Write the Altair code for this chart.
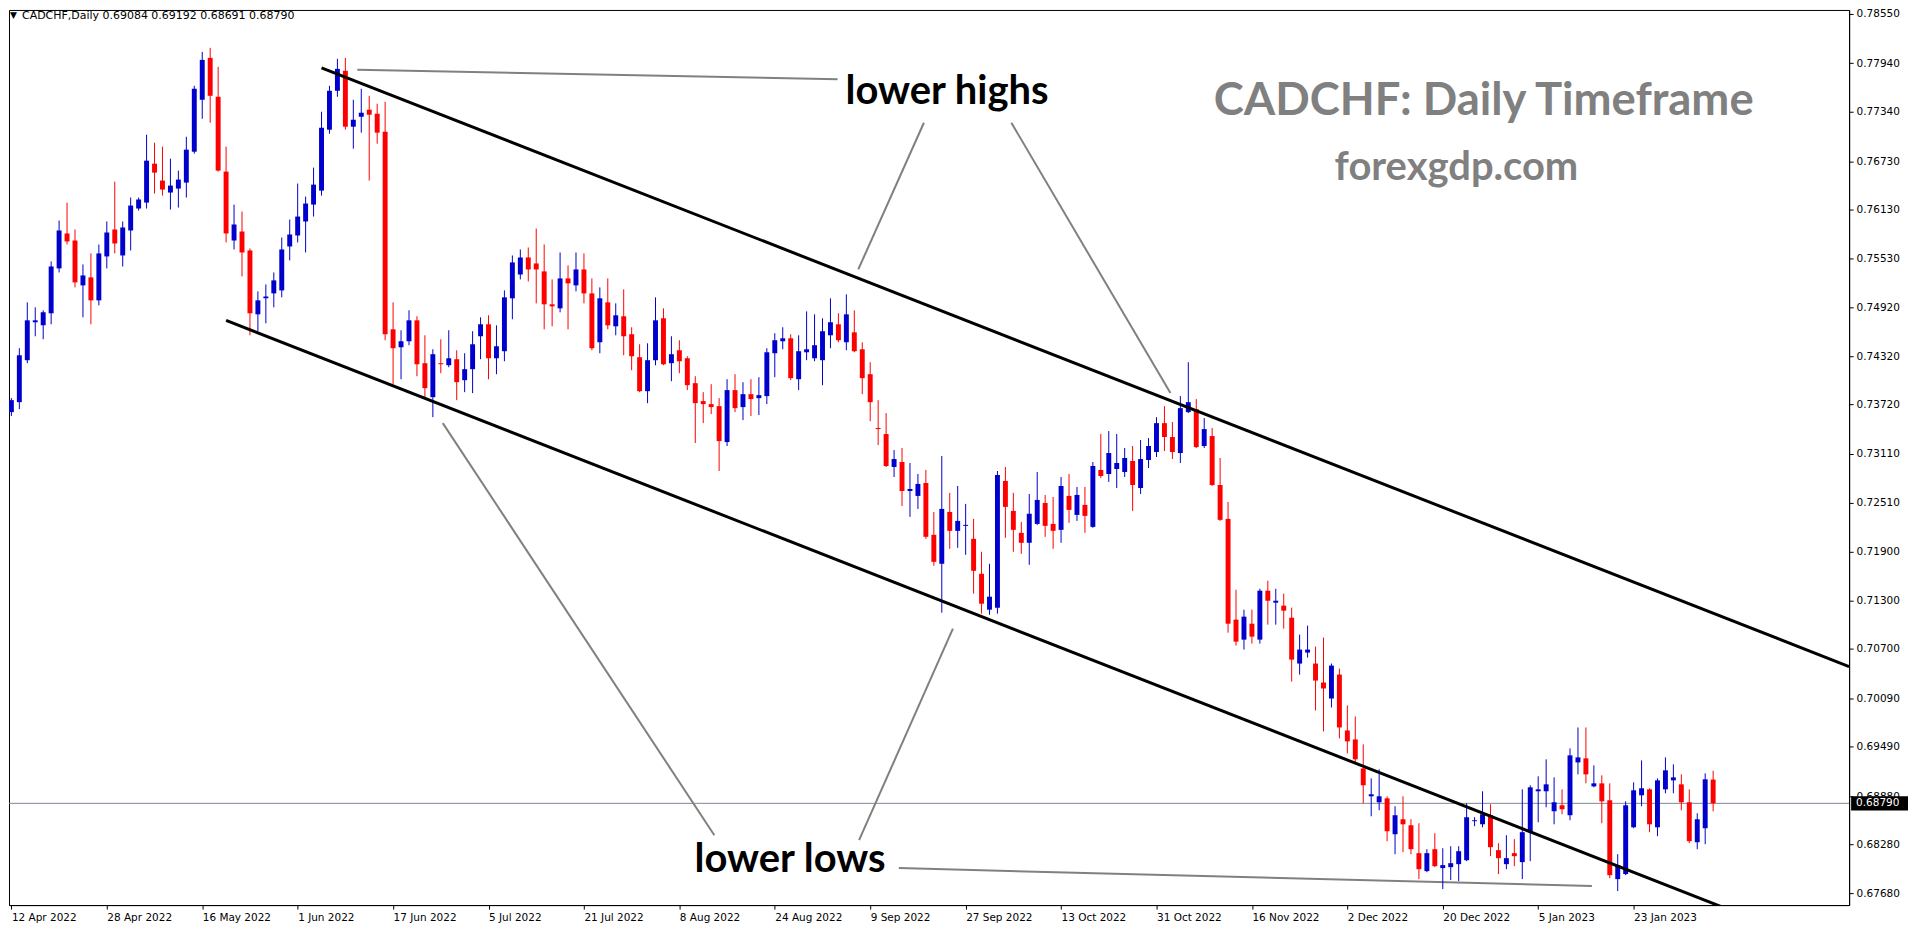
import json
import altair as alt
import pandas as pd

# ---------------- data ----------------
opens = [0.73627,0.73750,0.74269,0.74738,0.74700,0.74849,0.75404,0.75836,0.75749,0.75194,
0.75293,0.75009,0.75552,0.75885,0.75564,0.75873,0.76144,0.76218,0.76699,0.76490,
0.76342,0.76391,0.76465,0.76847,0.77489,0.78007,0.77526,0.76601,0.75749,0.75860,
0.75626,0.74836,0.75034,0.75095,0.75132,0.75675,0.75811,0.75984,0.76193,0.76366,
0.77119,0.77600,0.77847,0.77156,0.77279,0.77366,0.77316,0.77094,0.74651,0.74429,
0.74503,0.74762,0.74232,0.73812,0.74232,0.74207,0.74281,0.74022,0.74158,0.74565,
0.74713,0.74293,0.74380,0.75034,0.75330,0.75540,0.75465,0.75367,0.74960,0.74910,
0.75280,0.75194,0.75391,0.75095,0.74491,0.74984,0.74688,0.74812,0.74590,0.74306,
0.73886,0.74269,0.74787,0.74232,0.74392,0.74293,0.73985,0.73763,0.73726,0.73701,
0.73257,0.73899,0.73689,0.73849,0.73800,0.73825,0.74355,0.74503,0.74540,0.74034,
0.74367,0.74293,0.74269,0.74577,0.74713,0.74491,0.74614,0.74404,0.74096,0.73430,
0.73356,0.72949,0.73010,0.72652,0.72591,0.72751,0.72110,0.71752,0.72393,0.72159,
0.72221,0.72060,0.71628,0.71184,0.71209,0.72776,0.72406,0.72134,0.72011,0.72245,
0.72504,0.72245,0.72171,0.72591,0.72356,0.72480,0.72208,0.72912,0.72862,0.72924,
0.72887,0.73023,0.72689,0.73035,0.73134,0.73491,0.73319,0.73121,0.73627,0.73664,
0.73208,0.73331,0.72726,0.72307,0.71061,0.70814,0.71011,0.70814,0.71419,0.71271,
0.71234,0.71085,0.70518,0.70654,0.70518,0.70284,0.70086,0.70382,0.69691,0.69580,
0.69222,0.68877,0.68803,0.68852,0.68408,0.68593,0.68519,0.68174,0.67952,0.68223,
0.67989,0.68001,0.68038,0.68087,0.68569,0.68531,0.68643,0.68211,0.68038,0.68174,
0.68063,0.68433,0.68939,0.68939,0.68692,0.68766,0.68643,0.69296,0.69346,0.69000,
0.69037,0.68828,0.67853,0.67915,0.68494,0.68889,0.68963,0.68494,0.68963,0.69074,
0.69025,0.68803,0.68309,0.68482,0.69084]

highs = [0.73800,0.74417,0.74984,0.74923,0.74886,0.75490,0.75996,0.76218,0.75885,0.75453,
0.75589,0.75700,0.75984,0.76477,0.75984,0.76280,0.76280,0.77057,0.76958,0.76909,
0.76761,0.76613,0.77032,0.77662,0.78081,0.78131,0.77896,0.76909,0.76193,0.76107,
0.75651,0.75120,0.75206,0.75354,0.75786,0.76008,0.76453,0.76292,0.76650,0.77341,
0.77662,0.77995,0.78007,0.77489,0.77625,0.77538,0.77440,0.77464,0.74984,0.74639,
0.74886,0.74812,0.74577,0.74404,0.74528,0.74639,0.74392,0.74355,0.74627,0.74799,
0.74824,0.74700,0.75132,0.75564,0.75638,0.75663,0.75897,0.75700,0.75268,0.75601,
0.75441,0.75601,0.75589,0.75280,0.75169,0.75280,0.74972,0.75145,0.74676,0.74466,
0.74478,0.75046,0.74910,0.74565,0.74516,0.74318,0.74071,0.73874,0.73973,0.73800,
0.74034,0.74096,0.73997,0.74034,0.74059,0.74417,0.74602,0.74676,0.74590,0.74577,
0.74873,0.74836,0.74787,0.75034,0.74849,0.75083,0.74886,0.74491,0.74244,0.73775,
0.73615,0.73158,0.73183,0.72998,0.72862,0.72912,0.72393,0.73084,0.72628,0.72714,
0.72492,0.72307,0.71900,0.71752,0.72899,0.72949,0.72628,0.72270,0.72615,0.72887,
0.72603,0.72578,0.72825,0.72862,0.72702,0.72702,0.73010,0.73356,0.73393,0.73356,
0.73183,0.73208,0.73282,0.73306,0.73565,0.73701,0.73504,0.73825,0.74244,0.73788,
0.73553,0.73430,0.73060,0.72517,0.71431,0.71184,0.71184,0.71443,0.71542,0.71443,
0.71382,0.71209,0.70876,0.70987,0.70728,0.70839,0.70518,0.70456,0.70000,0.69864,
0.69519,0.69099,0.69210,0.68877,0.68754,0.68877,0.68593,0.68544,0.68223,0.68421,
0.68235,0.68260,0.68260,0.68791,0.68618,0.68939,0.68778,0.68297,0.68396,0.68347,
0.68963,0.69013,0.69124,0.69334,0.69111,0.68963,0.69469,0.69728,0.69728,0.69259,
0.69136,0.69037,0.68161,0.68815,0.69050,0.69321,0.68976,0.69099,0.69358,0.69272,
0.69148,0.68963,0.68667,0.69161,0.69192]

lows = [0.73578,0.73664,0.74232,0.74565,0.74528,0.74713,0.75354,0.75700,0.75169,0.74799,
0.74713,0.74947,0.75404,0.75589,0.75428,0.75626,0.76119,0.76144,0.76329,0.76304,
0.76132,0.76156,0.76280,0.76823,0.77254,0.77205,0.76601,0.75725,0.75638,0.75305,
0.74577,0.74627,0.74725,0.74923,0.75046,0.75503,0.75725,0.75601,0.76045,0.76304,
0.77069,0.77526,0.77119,0.76884,0.77082,0.76490,0.76946,0.74516,0.73973,0.74034,
0.74454,0.74071,0.73800,0.73565,0.74108,0.74182,0.73775,0.73874,0.73862,0.74281,
0.74034,0.74096,0.74256,0.74775,0.75268,0.75243,0.74972,0.74651,0.74688,0.74861,
0.74651,0.75120,0.74972,0.74392,0.74355,0.74651,0.74577,0.74330,0.74145,0.73874,
0.73738,0.74207,0.74207,0.74010,0.74108,0.73899,0.73245,0.73491,0.73602,0.72899,
0.73208,0.73627,0.73528,0.73578,0.73590,0.73726,0.74059,0.74404,0.74022,0.73899,
0.74269,0.74256,0.73960,0.74417,0.74491,0.74392,0.74367,0.73849,0.73516,0.73220,
0.72949,0.72825,0.72467,0.72332,0.72430,0.72060,0.71727,0.71147,0.71937,0.71949,
0.71863,0.71382,0.71135,0.71122,0.71135,0.72073,0.71900,0.71875,0.71739,0.72233,
0.72085,0.71937,0.72011,0.72258,0.72282,0.72134,0.72196,0.72813,0.72764,0.72689,
0.72825,0.72406,0.72615,0.72936,0.73072,0.73146,0.73047,0.72998,0.73615,0.73183,
0.73183,0.72714,0.72282,0.70900,0.70740,0.70691,0.70765,0.70765,0.70999,0.70999,
0.70950,0.70296,0.70382,0.70592,0.69938,0.69679,0.69975,0.69593,0.69408,0.69296,
0.68791,0.68630,0.68704,0.68322,0.68161,0.68186,0.68161,0.67853,0.67939,0.68001,
0.67730,0.67841,0.67828,0.68075,0.68507,0.68494,0.68137,0.67915,0.67976,0.68013,
0.67853,0.68075,0.68556,0.68741,0.68531,0.68655,0.68581,0.69148,0.69037,0.68988,
0.68544,0.67865,0.67705,0.67902,0.68482,0.68754,0.68433,0.68384,0.68914,0.68914,
0.68704,0.68297,0.68223,0.68285,0.68691]

closes = [0.73775,0.74330,0.74762,0.74762,0.74861,0.75428,0.75873,0.75737,0.75231,0.75317,
0.75009,0.75589,0.75848,0.75712,0.75910,0.76181,0.76255,0.76736,0.76588,0.76379,
0.76428,0.76502,0.76872,0.77625,0.77982,0.77538,0.76613,0.75836,0.75947,0.75601,
0.74849,0.75009,0.75058,0.75256,0.75638,0.75823,0.76045,0.76206,0.76440,0.77143,
0.77600,0.77871,0.77156,0.77242,0.77329,0.77304,0.77082,0.74590,0.74417,0.74503,
0.74762,0.74219,0.73923,0.74343,0.74219,0.74293,0.73997,0.74158,0.74466,0.74713,
0.74293,0.74441,0.75046,0.75478,0.75540,0.75391,0.75391,0.74960,0.74935,0.75280,
0.75219,0.75391,0.75095,0.74417,0.75034,0.74700,0.74824,0.74565,0.74318,0.73886,
0.74269,0.74762,0.74219,0.74343,0.74256,0.73960,0.73738,0.73726,0.73689,0.73269,
0.73899,0.73676,0.73849,0.73788,0.73837,0.74367,0.74516,0.74540,0.74047,0.74380,
0.74404,0.74454,0.74627,0.74738,0.74516,0.74836,0.74380,0.74047,0.73750,0.73417,
0.72961,0.73047,0.72652,0.72677,0.72739,0.72085,0.71776,0.72430,0.72159,0.72282,
0.72233,0.71665,0.71258,0.71345,0.72850,0.72455,0.72171,0.72011,0.72369,0.72541,
0.72221,0.72159,0.72714,0.72418,0.72603,0.72344,0.72961,0.72837,0.73121,0.72998,
0.73060,0.72726,0.73047,0.73208,0.73491,0.73319,0.73134,0.73676,0.73750,0.73195,
0.73417,0.72726,0.72295,0.71011,0.70789,0.71098,0.70851,0.71419,0.71295,0.71295,
0.71172,0.70567,0.70691,0.70691,0.70308,0.70210,0.70493,0.69728,0.69556,0.69334,
0.69013,0.68902,0.68877,0.68445,0.68643,0.68531,0.68223,0.67976,0.68174,0.68013,
0.68026,0.68050,0.68198,0.68618,0.68581,0.68655,0.68248,0.68112,0.68112,0.68137,
0.68433,0.68988,0.68963,0.69025,0.68803,0.68717,0.69383,0.69358,0.69148,0.69037,
0.68815,0.67902,0.68026,0.68766,0.68951,0.68976,0.68531,0.69074,0.69198,0.69111,
0.68803,0.68322,0.68593,0.69087,0.68790]

date_tick_bars = [0, 12, 24, 36, 48, 60, 72, 84, 96, 108, 120, 132, 144, 156, 168, 180, 192, 204]
date_labels = ["12 Apr 2022", "28 Apr 2022", "16 May 2022", "1 Jun 2022", "17 Jun 2022",
               "5 Jul 2022", "21 Jul 2022", "8 Aug 2022", "24 Aug 2022", "9 Sep 2022",
               "27 Sep 2022", "13 Oct 2022", "31 Oct 2022", "16 Nov 2022", "2 Dec 2022",
               "20 Dec 2022", "5 Jan 2023", "23 Jan 2023"]
price_ticks = [0.78550, 0.77940, 0.77340, 0.76730, 0.76130, 0.75530, 0.74920, 0.74320,
               0.73720, 0.73110, 0.72510, 0.71900, 0.71300, 0.70700, 0.70090, 0.69490,
               0.68880, 0.68280, 0.67680]
last_price = 0.68790
header = "CADCHF,Daily  0.69084 0.69192 0.68691 0.68790"

# channel lines (bar index, price)
channel_id = ["upper", "upper", "lower", "lower"]
channel_bar = [39.0, 231.1, 27.0, 216.75]
channel_price = [0.77884, 0.70481, 0.74762, 0.67446]

# grey pointer lines
pointer_id = ["g1", "g1", "g2", "g2", "g3", "g3", "g4", "g4", "g5", "g5", "g6", "g6"]
pointer_bar = [43.5, 103.9, 114.75, 106.5, 125.75, 145.75, 54.25, 88.4, 118.4, 106.6, 111.6, 198.75]
pointer_price = [0.77859, 0.77742, 0.77205, 0.75391, 0.77205, 0.73862, 0.73491, 0.68396,
                 0.70950, 0.68334, 0.67989, 0.67767]

note_text = ["lower highs", "lower lows"]
note_bar = [104.9, 85.9]
note_price = [0.77440, 0.67939]

brand_text = ["CADCHF: Daily Timeframe", "forexgdp.com"]
brand_bar = [151.2, 166.4]
brand_price = [0.77304, 0.76502]
brand_size = [45.5, 40]

# ---------------- chart ----------------
BLUE = "#0000cd"
RED = "#ff0000"

candles = pd.DataFrame({"i": list(range(len(opens))), "o": opens, "h": highs, "l": lows, "c": closes})
candles["dir"] = ["up" if c >= o else "down" for o, c in zip(opens, closes)]

x_scale = alt.Scale(domain=[-0.3, 231.1], nice=False, zero=False)
y_scale = alt.Scale(domain=[0.67532, 0.785994], nice=False, zero=False)

x_axis = alt.Axis(values=date_tick_bars, labelExpr=json.dumps(date_labels) + "[round(datum.value/12)]",
                  title=None, grid=False, orient="bottom", labelAlign="left", labelBaseline="top",
                  labelFont="DejaVu Sans", labelFontSize=10.5, labelColor="black",
                  tickColor="black", tickSize=4, labelPadding=3, domainColor="black",
                  labelFlush=False, labelOverlap=False, labelBound=False)
y_axis = alt.Axis(values=price_ticks, format=".5f", title=None, grid=False, orient="right",
                  labelFont="DejaVu Sans", labelFontSize=10.5, labelColor="black",
                  tickColor="black", tickSize=4, labelPadding=3, domainColor="black",
                  labelOverlap=False, labelFlush=False)


def X(field):
    return alt.X(field, type="quantitative", scale=x_scale, axis=x_axis)


def Y(field):
    return alt.Y(field, type="quantitative", scale=y_scale, axis=y_axis)


color = alt.Color("dir:N", scale=alt.Scale(domain=["up", "down"], range=[BLUE, RED]), legend=None)

base = alt.Chart(candles)

price_line = alt.Chart(pd.DataFrame({"p": [last_price]})).mark_rule(
    color="#7b8796", strokeWidth=1).encode(y=Y("p"))

wicks = base.mark_rule(strokeWidth=1, clip=True).encode(x=X("i"), y=Y("l"), y2="h", color=color)

bodies = base.transform_calculate(x0="datum.i - 0.31", x1="datum.i + 0.31").mark_bar(
    clip=True).encode(x=X("x0"), x2="x1", y=Y("o"), y2="c", color=color)

channel_df = pd.DataFrame({"id": channel_id, "i": channel_bar, "p": channel_price})
channels = alt.Chart(channel_df).mark_line(color="black", strokeWidth=3, clip=True).encode(
    x=X("i"), y=Y("p"), detail="id:N")

pointer_df = pd.DataFrame({"id": pointer_id, "i": pointer_bar, "p": pointer_price})
pointers = alt.Chart(pointer_df).mark_line(color="#808080", strokeWidth=2, clip=True).encode(
    x=X("i"), y=Y("p"), detail="id:N")

notes = alt.Chart(pd.DataFrame({"t": note_text, "i": note_bar, "p": note_price})).mark_text(
    align="left", baseline="alphabetic", font="Lato", fontWeight="bold", fontSize=40,
    color="black").encode(x=X("i"), y=Y("p"), text="t:N")

brand = alt.Chart(pd.DataFrame({"t": brand_text, "i": brand_bar, "p": brand_price,
                                "s": brand_size})).mark_text(
    align="left", baseline="alphabetic", font="Lato", fontWeight="bold",
    color="#808080").encode(x=X("i"), y=Y("p"), text="t:N",
                            size=alt.Size("s:Q", scale=None, legend=None))

head_df = pd.DataFrame({"t": [header], "m": ["\u25bc"]})
head_text = alt.Chart(head_df).mark_text(
    align="left", baseline="alphabetic", font="DejaVu Sans", fontSize=11, color="black").encode(
    x=alt.value(13), y=alt.value(9), text="t:N")
head_mark = alt.Chart(head_df).mark_text(
    align="left", baseline="alphabetic", font="DejaVu Sans", fontSize=9, color="black").encode(
    x=alt.value(1), y=alt.value(8), text="m:N")

price_box_df = pd.DataFrame({"p": [last_price], "lab": [f"{last_price:.5f}"]})
price_box = alt.Chart(price_box_df).transform_calculate(
    top="datum.p + 0.00088", bot="datum.p - 0.00088").mark_rect(color="black").encode(
    x=alt.value(1846), x2=alt.value(1903), y=Y("top"), y2="bot")
price_lab = alt.Chart(price_box_df).mark_text(
    align="left", baseline="middle", font="DejaVu Sans", fontSize=10.5, color="white").encode(
    x=alt.value(1851), y=Y("p"), text="lab:N")

chart = alt.layer(
    price_line, pointers, wicks, bodies, channels, notes, brand, head_mark, head_text,
    price_box, price_lab
).properties(
    width=1844, height=897, padding={"left": 0, "top": 0, "right": 0, "bottom": 0},
    background="white"
).configure_view(stroke="black", strokeWidth=1)

chart.save("out.html", embed_options={"renderer": "svg", "actions": False})
